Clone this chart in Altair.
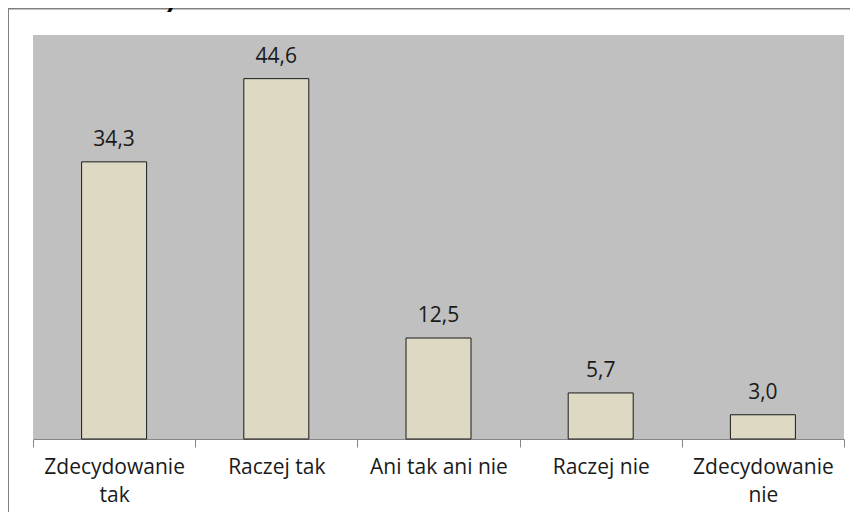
import altair as alt
import pandas as pd

categories = ["Zdecydowanie tak", "Raczej tak", "Ani tak ani nie", "Raczej nie", "Zdecydowanie nie"]
values = [34.3, 44.6, 12.5, 5.7, 3.0]
title_text = "(w skali uczeń)"

df = pd.DataFrame({"cat": categories, "val": values})

FONT = "Open Sans"
TXT = "#1a1a1a"

x_enc = alt.X(
    "cat:N",
    sort=categories,
    scale=alt.Scale(paddingInner=0, paddingOuter=0),
    axis=alt.Axis(
        title=None,
        labelAngle=0,
        labelFont=FONT,
        labelFontSize=21,
        labelColor=TXT,
        labelPadding=9,
        labelLineHeight=28,
        labelLimit=0,
        labelOverlap=False,
        labelExpr="indexof(datum.label, 'Zdecydowanie') == 0 ? split(datum.label, ' ') : datum.label",
        domainColor="#868686",
        domainWidth=1,
        tickColor="#868686",
        tickSize=8,
        tickBand="extent",
        grid=False,
    ),
)
y_enc = alt.Y("val:Q", scale=alt.Scale(domain=[0, 50]), axis=None)

bars = alt.Chart(df).mark_bar(
    size=65, fill="#DDD9C3", stroke="#1a1a1a", strokeWidth=1
).encode(x=x_enc, y=y_enc)

labels = alt.Chart(df).transform_calculate(
    lbl="replace(format(datum.val, '.1f'), '.', ',')"
).mark_text(
    dy=-16, baseline="alphabetic", font=FONT, fontSize=21, color=TXT
).encode(x=x_enc, y=y_enc, text="lbl:N")

one = pd.DataFrame({"a": [0]})
frame_left = alt.Chart(one).mark_rule(color="#808080", strokeWidth=2).encode(
    x=alt.value(-25), y=alt.value(-26.5), y2=alt.value(480)
)
frame_top = alt.Chart(one).mark_rule(color="#808080", strokeWidth=2).encode(
    x=alt.value(-26), x2=alt.value(825), y=alt.value(-26.5)
)
title = alt.Chart(pd.DataFrame({"t": [title_text]})).mark_text(
    align="right", baseline="alphabetic", font="Liberation Sans", fontSize=27,
    fontWeight="bold", color="#000000"
).encode(x=alt.value(143), y=alt.value(-29), text="t:N")

chart = alt.layer(bars, labels, frame_left, frame_top, title).properties(
    width=811,
    height=404,
    padding={"left": 25, "top": 27, "right": 6, "bottom": 73},
    autosize=alt.AutoSizeParams(type="none"),
    background="#ffffff",
).configure_view(fill="#C0C0C0", stroke=None)

chart.save("out.html", embed_options={"renderer": "svg", "actions": False})
